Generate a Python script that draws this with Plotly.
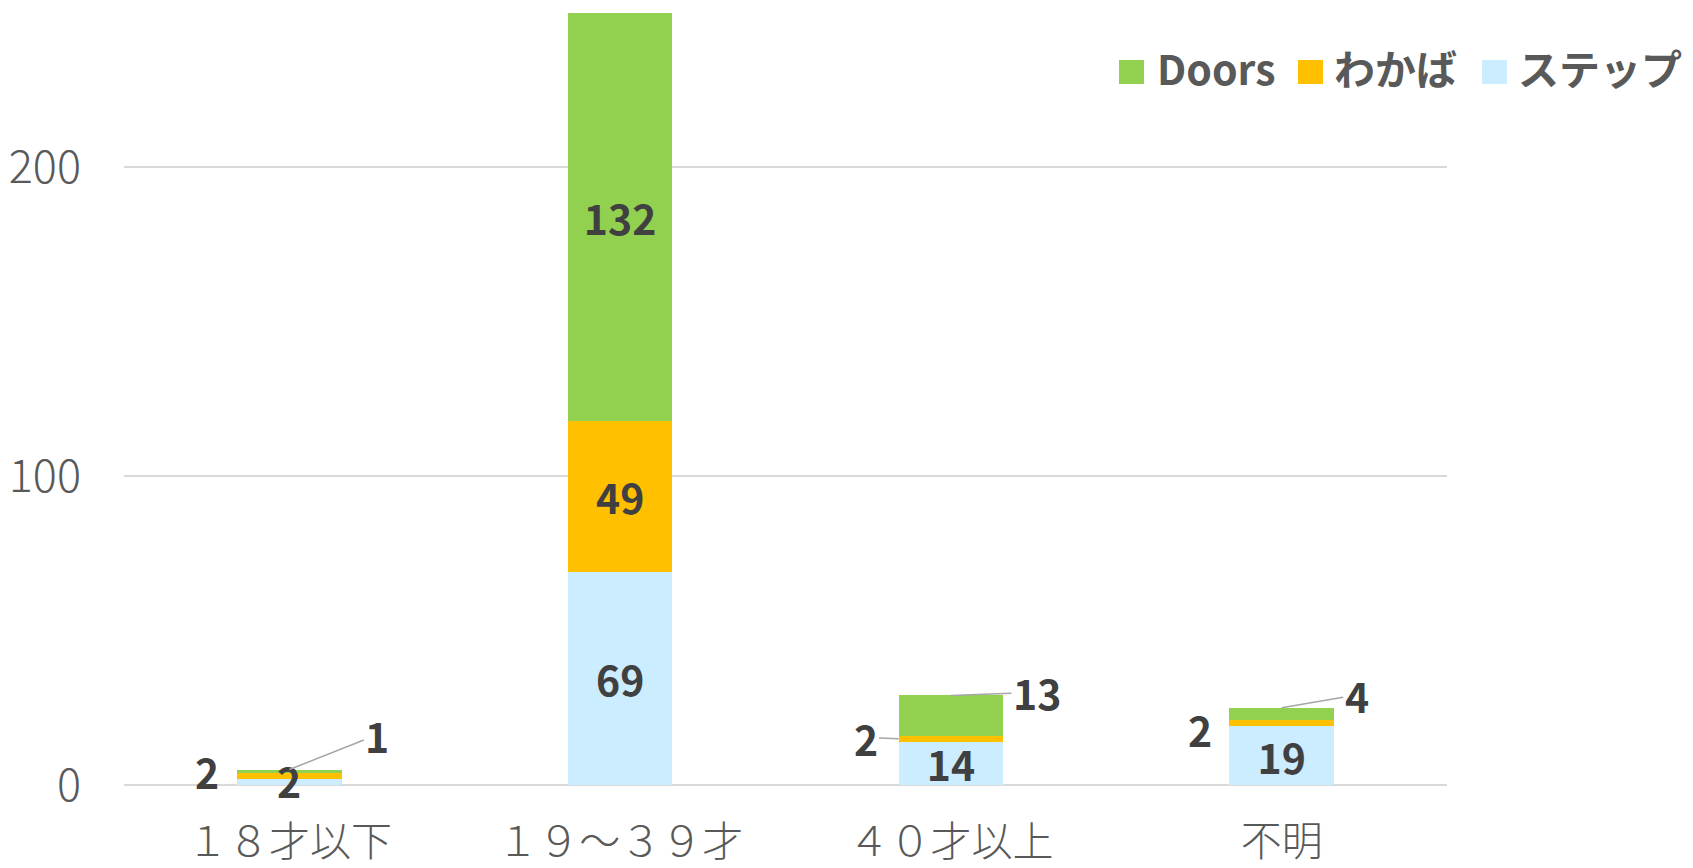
import plotly.graph_objects as go

# ---------------- data ----------------
categories = ["１８才以下", "１９～３９才", "４０才以上", "不明"]
step = [2, 69, 14, 19]        # ステップ (bottom)
wakaba = [2, 49, 2, 2]        # わかば (middle)
doors = [1, 132, 13, 4]       # Doors (top)
series_names = ["ステップ", "わかば", "Doors"]
legend_order = ["Doors", "わかば", "ステップ"]
y_ticks = [0, 100, 200]

# ---------------- style / layout ----------------
OFF = 8                      # browser body margin
W, H = 1693 - OFF, 868 - OFF
PLOT_L, PLOT_R, PLOT_T, PLOT_B = 124, 1447, 13, 785   # page pixels
L, R = PLOT_L - OFF, W - (PLOT_R - OFF)
T, B = PLOT_T - OFF, H - (PLOT_B - OFF)
YMAX = 250
BAR_W = 0.316
FONT = "Noto Sans CJK JP"
colors = {"ステップ": "#CCECFF", "わかば": "#FFC000", "Doors": "#92D050"}
label_font = dict(family=FONT, size=41, color="#404040", weight="bold")
xtick_font = dict(family=FONT, size=41, color="#595959", weight=300)
ytick_font = dict(family=FONT, size=45, color="#595959", weight=300)
legend_font = dict(family=FONT, size=41, color="#595959", weight="bold")
LEADER = "#A6A6A6"

x_idx = list(range(len(categories)))
series_vals = {"ステップ": step, "わかば": wakaba, "Doors": doors}
inside = {
    "ステップ": [False, True, True, True],
    "わかば": [False, True, False, False],
    "Doors": [False, True, False, False],
}

fig = go.Figure()
for name in series_names:
    vals = series_vals[name]
    fig.add_trace(go.Bar(
        x=x_idx, y=vals, name=name, width=BAR_W,
        marker=dict(color=colors[name], line=dict(width=0)),
        text=[str(v) if ins else "" for v, ins in zip(vals, inside[name])],
        textposition=["inside" if ins else "none" for ins in inside[name]],
        insidetextanchor="middle", textangle=0,
        textfont=label_font, showlegend=False, hoverinfo="skip",
    ))

lvl_w = [s + w / 2 for s, w in zip(step, wakaba)]
total = [s + w + d for s, w, d in zip(step, wakaba, doors)]

annotations = []

def lab(x, y, text, ax=None, ay=None, xshift=0, yshift=0):
    d = dict(x=x, y=y, xref="x", yref="y", text=text, font=label_font,
             xanchor="center", yanchor="middle")
    if ax is None:
        d.update(showarrow=False, xshift=xshift, yshift=yshift)
    else:
        d.update(showarrow=True, ax=ax, ay=ay, arrowhead=0, arrowwidth=1.5,
                 arrowcolor=LEADER, standoff=0, startstandoff=0)
    annotations.append(d)

# 18才以下
lab(0, step[0] / 2, str(step[0]), yshift=2)
lab(0, lvl_w[0], str(wakaba[0]), xshift=-82, yshift=5)
lab(0, total[0], str(doors[0]), ax=88, ay=-35)
# 40才以上
lab(2 - BAR_W / 2, lvl_w[2], str(wakaba[2]), ax=-33, ay=-1)
lab(2, total[2], str(doors[2]), ax=86, ay=-3)
# 不明
lab(3, lvl_w[3], str(wakaba[3]), xshift=-82, yshift=-6)
lab(3, total[3], str(doors[3]), ax=75, ay=-13)

# ---------------- manual legend ----------------
PW, PH = PLOT_R - PLOT_L, PLOT_B - PLOT_T
def px_x(px):
    return (px - PLOT_L) / PW
def px_y(py):
    return (PLOT_B - py) / PH

shapes = []
legend_pos = {"Doors": (1119, 1155), "わかば": (1298, 1332), "ステップ": (1482, 1516)}
for name in legend_order:
    sx, tx = legend_pos[name]
    shapes.append(dict(type="rect", xref="paper", yref="paper",
                       x0=px_x(sx), x1=px_x(sx + 25), y0=px_y(84), y1=px_y(60),
                       fillcolor=colors[name], line=dict(width=0)))
    annotations.append(dict(x=px_x(tx), y=px_y(67), xref="paper", yref="paper",
                            text=name, showarrow=False, xanchor="left",
                            yanchor="middle", font=legend_font))

fig.update_layout(
    width=W, height=H,
    margin=dict(l=L, r=R, t=T, b=B, autoexpand=False),
    barmode="stack",
    paper_bgcolor="white", plot_bgcolor="white",
    showlegend=False,
    annotations=annotations, shapes=shapes,
    uniformtext=dict(minsize=41, mode="show"),
    xaxis=dict(range=[-0.5, 3.5], tickvals=x_idx, ticktext=categories,
               showgrid=False, zeroline=False, showline=False,
               tickfont=xtick_font, ticks="", ticklabelstandoff=29),
    yaxis=dict(range=[0, YMAX], tickvals=y_ticks, showgrid=True,
               gridcolor="#D9D9D9", gridwidth=1.5, zeroline=True,
               zerolinecolor="#D9D9D9", zerolinewidth=1.5, showline=False,
               tickfont=ytick_font, ticks="", ticklabelstandoff=42),
)

fig.write_html("out.html")
